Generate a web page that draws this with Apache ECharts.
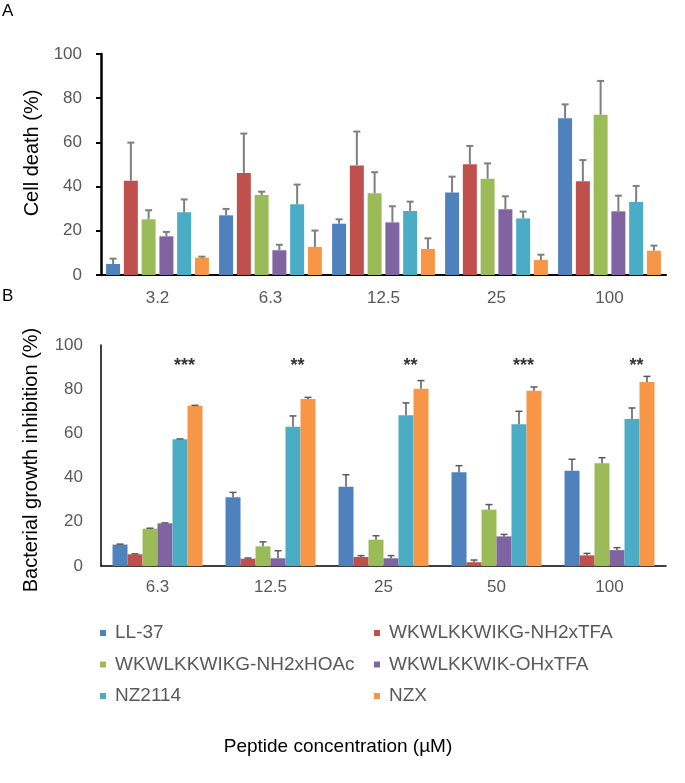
<!DOCTYPE html>
<html>
<head>
<meta charset="utf-8">
<script src="https://cdn.jsdelivr.net/npm/echarts@6/dist/echarts.min.js"></script>
<style>
html,body{margin:0;padding:0;background:#fff;}
#chart{width:685px;height:783px;}
</style>
</head>
<body>
<div id="chart"></div>
<script>
// ---- Data ----
const categoriesA = ['3.2', '6.3', '12.5', '25', '100'];
const categoriesB = ['6.3', '12.5', '25', '50', '100'];
const seriesNames = ['LL-37', 'WKWLKKWIKG-NH2xTFA', 'WKWLKKWIKG-NH2xHOAc', 'WKWLKKWIK-OHxTFA', 'NZ2114', 'NZX'];
const yTicks = [0, 20, 40, 60, 80, 100];

// Panel A: cell death (%)
const cellLL37   = [5.0, 27.0, 23.2, 37.3, 70.9];
const cellTFA    = [42.7, 46.2, 49.6, 50.1, 42.4];
const cellHOAc   = [25.2, 36.2, 37.0, 43.6, 72.5];
const cellOHTFA  = [17.5, 11.2, 23.8, 29.7, 28.8];
const cellNZ2114 = [28.4, 32.0, 29.0, 25.6, 33.0];
const cellNZX    = [7.8, 12.7, 11.8, 6.8, 11.0];
const cellErrLL37   = [2.4, 2.9, 2.0, 7.2, 6.3];
const cellErrTFA    = [17.2, 17.8, 15.3, 8.3, 9.6];
const cellErrHOAc   = [4.1, 1.5, 9.5, 6.9, 15.3];
const cellErrOHTFA  = [2.0, 2.5, 7.3, 5.9, 7.1];
const cellErrNZ2114 = [5.8, 8.9, 4.2, 3.1, 7.3];
const cellErrNZX    = [0.5, 7.4, 4.8, 2.4, 2.3];

// Panel B: bacterial growth inhibition (%)
const inhLL37   = [9.7, 31.1, 35.9, 42.4, 43.1];
const inhTFA    = [5.3, 3.3, 4.1, 1.7, 4.8];
const inhHOAc   = [16.9, 8.9, 11.9, 25.5, 46.5];
const inhOHTFA  = [19.3, 3.5, 3.5, 13.4, 7.2];
const inhNZ2114 = [57.3, 63.0, 68.2, 64.1, 66.5];
const inhNZX    = [72.5, 75.6, 80.2, 79.3, 83.3];
const inhErrLL37   = [0.2, 2.2, 5.4, 3.0, 5.2];
const inhErrTFA    = [0.2, 0.3, 0.6, 1.0, 0.9];
const inhErrHOAc   = [0.2, 2.0, 1.8, 2.3, 2.5];
const inhErrOHTFA  = [0.2, 3.4, 1.2, 0.9, 1.1];
const inhErrNZ2114 = [0.2, 4.9, 5.6, 5.9, 5.0];
const inhErrNZX    = [0.2, 0.7, 3.7, 1.7, 2.5];

const starsB = ['***', '**', '**', '***', '**'];
const starLevel = 90.5;

// ---- Styling ----
const colors = ['#4F81BD', '#C0504D', '#9BBB59', '#8064A2', '#4BACC6', '#F79646'];
const FONT = "'Liberation Sans', Arial, sans-serif";

const valuesA = [cellLL37, cellTFA, cellHOAc, cellOHTFA, cellNZ2114, cellNZX];
const errorsA = [cellErrLL37, cellErrTFA, cellErrHOAc, cellErrOHTFA, cellErrNZ2114, cellErrNZX];
const valuesB = [inhLL37, inhTFA, inhHOAc, inhOHTFA, inhNZ2114, inhNZX];
const errorsB = [inhErrLL37, inhErrTFA, inhErrHOAc, inhErrOHTFA, inhErrNZ2114, inhErrNZX];

const layoutA = {catGap: 0.09, barGap: 0.27};
const layoutB = {catGap: 0.204, barGap: 0};

function barSeries(idx, si, vals, lay) {
  return {
    type: 'bar', name: seriesNames[si], xAxisIndex: idx, yAxisIndex: idx,
    data: vals,
    barCategoryGap: (lay.catGap * 100) + '%',
    barGap: (lay.barGap * 100) + '%',
    itemStyle: {color: colors[si]},
    z: 2
  };
}

function errSeries(idx, si, vals, errs, lay, color, lw) {
  const n = seriesNames.length;
  return {
    type: 'custom', name: 'err' + idx + '_' + si, xAxisIndex: idx, yAxisIndex: idx,
    data: vals.map((v, i) => [i, v, v + errs[i]]),
    encode: {x: 0, y: [1, 2]},
    z: 5,
    silent: true,
    renderItem: function (params, api) {
      const c0 = api.coord([api.value(0), api.value(1)]);
      const c1 = api.coord([api.value(0), api.value(2)]);
      const band = api.size([1, 0])[0];
      const w = band * (1 - lay.catGap) / (n + (n - 1) * lay.barGap);
      const total = n * w + (n - 1) * w * lay.barGap;
      const x = c0[0] - total / 2 + si * w * (1 + lay.barGap) + w / 2;
      const cap = 3.5;
      const st = {stroke: color, lineWidth: lw};
      return {
        type: 'group',
        children: [
          {type: 'line', shape: {x1: x, y1: c0[1], x2: x, y2: c1[1]}, style: st},
          {type: 'line', shape: {x1: x - cap, y1: c1[1], x2: x + cap, y2: c1[1]}, style: st}
        ]
      };
    }
  };
}

const series = [];
for (let s = 0; s < 6; s++) series.push(barSeries(0, s, valuesA[s], layoutA));
for (let s = 0; s < 6; s++) series.push(barSeries(1, s, valuesB[s], layoutB));
for (let s = 0; s < 6; s++) series.push(errSeries(0, s, valuesA[s], errorsA[s], layoutA, '#7F7F7F', 2));
for (let s = 0; s < 6; s++) series.push(errSeries(1, s, valuesB[s], errorsB[s], layoutB, '#595959', 1.5));
series.push({
  type: 'scatter', name: 'stars', xAxisIndex: 1, yAxisIndex: 1,
  symbolSize: 1, itemStyle: {color: 'rgba(0,0,0,0)'}, silent: true, z: 6,
  data: starsB.map((s, i) => ({value: [i, starLevel], label: {formatter: s}})),
  label: {show: true, position: 'inside', offset: [27, 0], color: '#000', fontSize: 18, fontWeight: 'bold', fontFamily: FONT}
});

const axisLabel = {color: '#595959', fontSize: 17, fontFamily: FONT};

const option = {
  animation: false,
  backgroundColor: '#fff',
  textStyle: {fontFamily: FONT},
  grid: [
    {left: 101, right: 19, top: 54, height: 221},
    {left: 101, right: 19, top: 345, height: 221}
  ],
  xAxis: [
    {type: 'category', gridIndex: 0, data: categoriesA,
     axisLine: {lineStyle: {color: '#000', width: 2}}, axisTick: {show: false},
     axisLabel: Object.assign({margin: 15}, axisLabel)},
    {type: 'category', gridIndex: 1, data: categoriesB,
     axisLine: {lineStyle: {color: '#000', width: 1.5}}, axisTick: {show: false},
     axisLabel: Object.assign({margin: 13}, axisLabel)}
  ],
  yAxis: [
    {type: 'value', gridIndex: 0, min: yTicks[0], max: yTicks[yTicks.length - 1], interval: 20,
     axisLine: {show: true, lineStyle: {color: '#000', width: 2.5}},
     axisTick: {show: true, length: 5, lineStyle: {color: '#000', width: 2}},
     splitLine: {show: false},
     axisLabel: Object.assign({margin: 19}, axisLabel)},
    {type: 'value', gridIndex: 1, min: yTicks[0], max: yTicks[yTicks.length - 1], interval: 20,
     axisLine: {show: true, lineStyle: {color: '#000', width: 1.5}},
     axisTick: {show: false},
     splitLine: {show: false},
     axisLabel: Object.assign({margin: 18}, axisLabel)}
  ],
  legend: [
    {left: 95, top: 618, orient: 'vertical', icon: 'rect', itemWidth: 6, itemHeight: 6, itemGap: 11.5,
     data: [seriesNames[0], seriesNames[2], seriesNames[4]],
     textStyle: {color: '#595959', fontSize: 19, fontFamily: FONT, lineHeight: 20, padding: [0, 0, 0, 4]}},
    {left: 369, top: 618, orient: 'vertical', icon: 'rect', itemWidth: 6, itemHeight: 6, itemGap: 11.5,
     data: [seriesNames[1], seriesNames[3], seriesNames[5]],
     textStyle: {color: '#595959', fontSize: 19, fontFamily: FONT, lineHeight: 20, padding: [0, 0, 0, 4]}}
  ],
  graphic: [
    {type: 'text', left: 2, top: 3, style: {text: 'A', fontSize: 17, fontFamily: FONT, fill: '#000'}},
    {type: 'text', left: 2, top: 288, style: {text: 'B', fontSize: 17, fontFamily: FONT, fill: '#000'}},
    {type: 'text', x: 32, y: 153, rotation: Math.PI / 2,
     style: {text: 'Cell death (%)', fontSize: 20, fontFamily: FONT, fill: '#000', align: 'center', verticalAlign: 'middle'}},
    {type: 'text', x: 31, y: 460, rotation: Math.PI / 2,
     style: {text: 'Bacterial growth inhibition (%)', fontSize: 20, fontFamily: FONT, fill: '#000', align: 'center', verticalAlign: 'middle'}},
    {type: 'text', x: 338, y: 747,
     style: {text: 'Peptide concentration (µM)', fontSize: 19, fontFamily: FONT, fill: '#000', align: 'center', verticalAlign: 'middle'}}
  ],
  series: series
};

const chart = echarts.init(document.getElementById('chart'), null, {renderer: 'canvas'});
chart.setOption(option);
</script>
</body>
</html>
